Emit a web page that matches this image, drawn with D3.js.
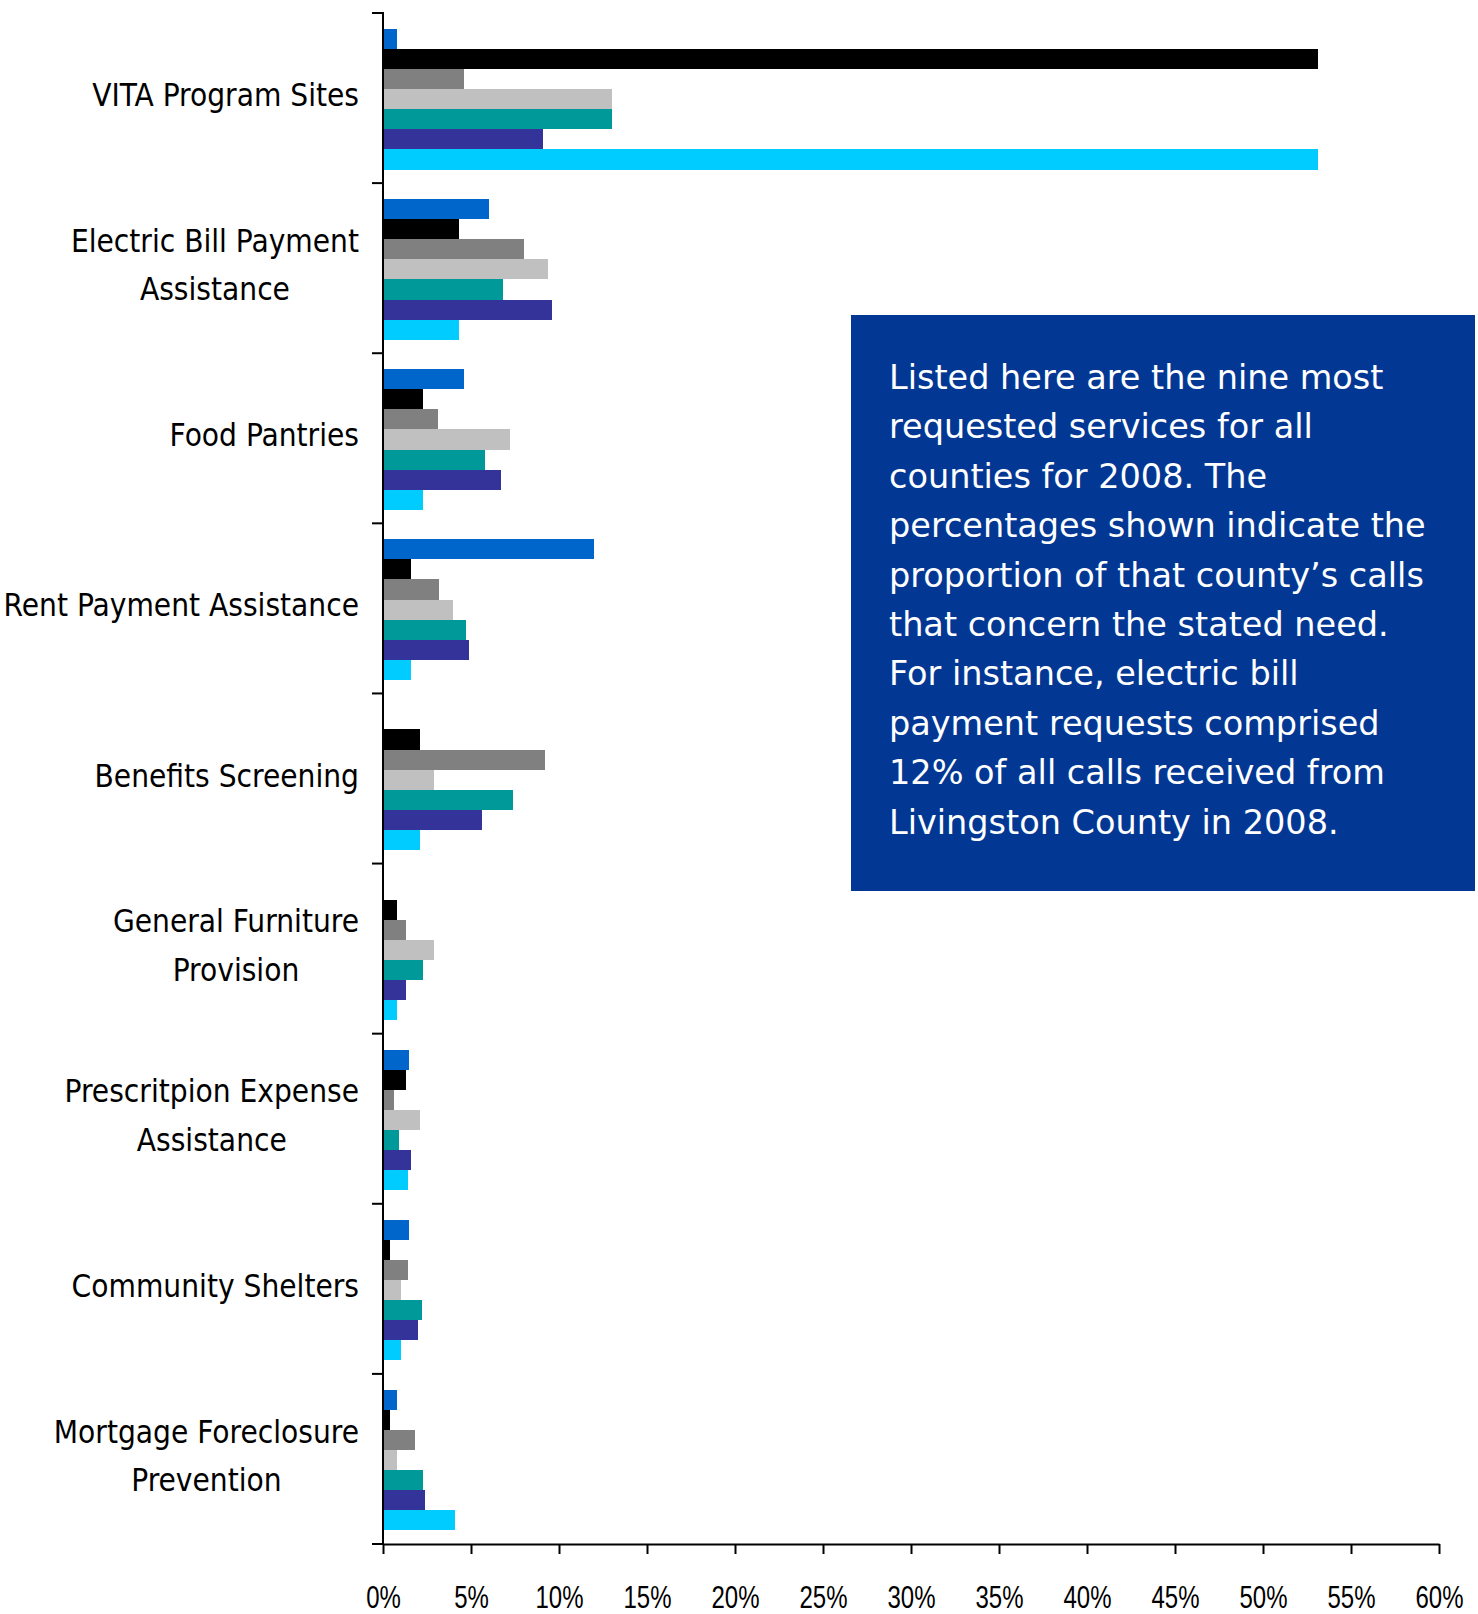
<!DOCTYPE html>
<html>
<head>
<meta charset="utf-8">
<script src="https://cdn.jsdelivr.net/npm/d3@7"></script>
<style>
  body { margin: 0; background: #ffffff; }
  svg { display: block; }
  .cat-label { font-family: "DejaVu Sans Condensed", "DejaVu Sans", sans-serif; font-stretch: condensed; font-size: 31.3px; fill: #000; }
  .note { font-family: "DejaVu Sans", sans-serif; font-size: 33.5px; fill: #ffffff; }
  .x-tick text { font-family: "Liberation Sans", Arial, sans-serif; font-size: 32px; fill: #000; }
</style>
</head>
<body>
<svg id="chart" width="1478" height="1614"></svg>
<script>
// Service categories (line breaks mark wrapped labels)
const categories = [
  "VITA Program Sites",
  "Electric Bill Payment\nAssistance",
  "Food Pantries",
  "Rent Payment Assistance",
  "Benefits Screening",
  "General Furniture\nProvision",
  "Prescritpion Expense\nAssistance",
  "Community Shelters",
  "Mortgage Foreclosure\nPrevention"
];

// Share of each county's calls (%) per service, one array per county series
const county1 = [0.8, 6.0, 4.6, 12.0, 0.0, 0.0, 1.5, 1.5, 0.8];
const county2 = [53.1, 4.3, 2.3, 1.6, 2.1, 0.8, 1.3, 0.4, 0.4];
const county3 = [4.6, 8.0, 3.1, 3.2, 9.2, 1.3, 0.6, 1.4, 1.8];
const county4 = [13.0, 9.4, 7.2, 4.0, 2.9, 2.9, 2.1, 1.0, 0.8];
const county5 = [13.0, 6.8, 5.8, 4.7, 7.4, 2.3, 0.9, 2.2, 2.3];
const county6 = [9.1, 9.6, 6.7, 4.9, 5.6, 1.3, 1.6, 2.0, 2.4];
const county7 = [53.1, 4.3, 2.3, 1.6, 2.1, 0.8, 1.4, 1.0, 4.1];

const seriesKeys = ["county1", "county2", "county3", "county4", "county5", "county6", "county7"];
const seriesValues = [county1, county2, county3, county4, county5, county6, county7];
const seriesColors = ["#0066cc", "#000000", "#808080", "#c0c0c0", "#009999", "#333399", "#00ccff"];

// Axis ticks (%)
const xTickValues = [0, 5, 10, 15, 20, 25, 30, 35, 40, 45, 50, 55, 60];

const noteLines = [
  "Listed here are the nine most",
  "requested services for all",
  "counties for 2008. The",
  "percentages shown indicate the",
  "proportion of that county\u2019s calls",
  "that concern the stated need.",
  "For instance, electric bill",
  "payment requests comprised",
  "12% of all calls received from",
  "Livingston County in 2008."
];

const svg = d3.select("#chart");
const plot = { left: 383, right: 1439, top: 13, bottom: 1544 };

const x = d3.scaleLinear().domain([0, 60]).range([plot.left, plot.right]);
const y0 = d3.scaleBand().domain(categories).range([plot.top, plot.bottom]).paddingInner(0).paddingOuter(0);
const y1 = d3.scaleBand().domain(seriesKeys).range([0, y0.bandwidth()])
  .paddingInner(0).paddingOuter(0.73).align(0.54);
const color = d3.scaleOrdinal().domain(seriesKeys).range(seriesColors);

// Bars
const rows = categories.map((c, i) => ({
  category: c,
  values: seriesKeys.map((k, j) => ({ key: k, value: seriesValues[j][i] }))
}));

const groups = svg.append("g").selectAll("g")
  .data(rows)
  .join("g")
  .attr("transform", d => `translate(0,${y0(d.category)})`);

groups.selectAll("rect")
  .data(d => d.values.filter(v => v.value > 0))
  .join("rect")
  .attr("x", x(0))
  .attr("y", d => y1(d.key))
  .attr("width", d => x(d.value) - x(0))
  .attr("height", y1.bandwidth())
  .attr("fill", d => color(d.key))
  .attr("shape-rendering", "crispEdges");

// Value axis
const xAxis = d3.axisBottom(x)
  .tickValues(xTickValues)
  .tickFormat(d => d + "%")
  .tickSize(10)
  .tickSizeOuter(0);

const gx = svg.append("g")
  .attr("class", "x-tick")
  .attr("transform", `translate(0,${plot.bottom})`)
  .call(xAxis);
gx.select(".domain").attr("stroke", "#000").attr("stroke-width", 2);
gx.selectAll(".tick line").attr("stroke", "#000").attr("stroke-width", 2);
gx.selectAll(".tick text")
  .attr("y", 64).attr("dy", 0)
  .attr("transform", "scale(0.75,1)")
  .attr("font-size", null);

// Category axis: line plus boundary ticks between groups
const boundaries = categories.map(c => y0(c)).concat([y0.range()[1]]);
const gy = svg.append("g");
gy.append("line")
  .attr("x1", x(0)).attr("x2", x(0))
  .attr("y1", y0.range()[0] - 1).attr("y2", y0.range()[1] + 1)
  .attr("stroke", "#000").attr("stroke-width", 2);
gy.selectAll("line.tick")
  .data(boundaries)
  .join("line")
  .attr("class", "tick")
  .attr("x1", x(0) - 11).attr("x2", x(0))
  .attr("y1", d => d).attr("y2", d => d)
  .attr("stroke", "#000").attr("stroke-width", 2);

// Category labels: lines centred on each other, block right-aligned to the axis
const labelRight = 359;
const lineGap = 48.5;
categories.forEach(c => {
  const lines = c.split("\n");
  const cy = y0(c) + y0.bandwidth() / 2;
  const g = svg.append("g");
  const texts = lines.map((ln, i) => g.append("text")
    .attr("class", "cat-label")
    .attr("text-anchor", "middle")
    .attr("y", cy + (i - (lines.length - 1) / 2) * lineGap + 8)
    .text(ln));
  const w = d3.max(texts, t => t.node().getComputedTextLength());
  texts.forEach(t => t.attr("x", labelRight - w / 2));
});

// Explanatory note box
const note = svg.append("g");
note.append("rect")
  .attr("x", 851).attr("y", 315)
  .attr("width", 624).attr("height", 576)
  .attr("fill", "#023894");
note.selectAll("text")
  .data(noteLines)
  .join("text")
  .attr("class", "note")
  .attr("x", 889)
  .attr("y", (d, i) => 389 + i * 49.4)
  .text(d => d);
</script>
</body>
</html>
